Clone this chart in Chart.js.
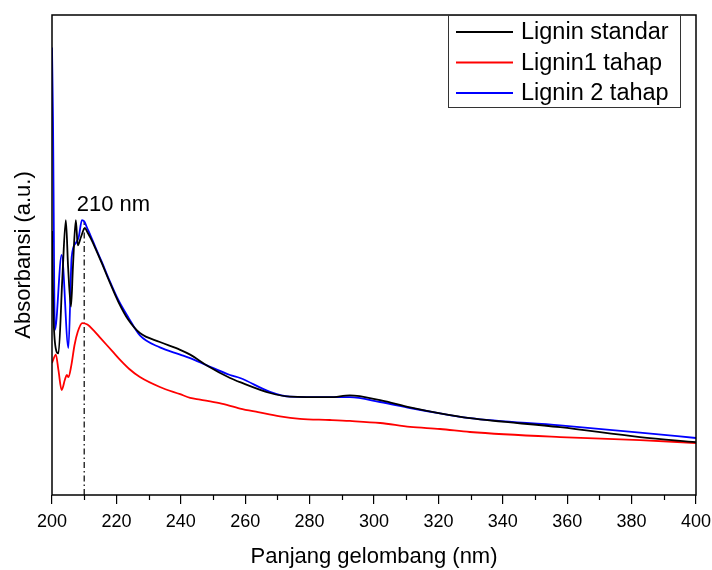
<!DOCTYPE html>
<html>
<head>
<meta charset="utf-8">
<script src="https://cdn.jsdelivr.net/npm/chart.js@4"></script>
<style>
  body{margin:0;background:#fff;}
  #wrap{width:712px;height:570px;}
</style>
</head>
<body>
<div id="wrap"><canvas id="uv-chart" width="712" height="570"></canvas></div>
<script>
// wavelength (nm) / absorbance (a.u.)
const standarNm = [200.0,200.4,201.0,202.0,203.2,204.3,205.0,205.9,206.5,207.4,208.0,209.0,210.2,211,212,213.4,215.5,217.5,220.6,223.7,227.3,233.5,239.8,242.9,248.1,255.3,258.4,267.7,273.9,286.3,292.5,301.9,311.2,320.5,329.8,357.8,382.6,400];
const standarAbs = [2.2,1.55,1.25,1.18,1.8,2.29,1.9,1.57,1.9,2.29,2.08,2.15,2.225,2.19,2.14,2.06,1.93,1.8,1.61,1.46,1.35,1.275,1.21,1.17,1.08,0.975,0.94,0.85,0.82,0.815,0.83,0.79,0.73,0.68,0.64,0.565,0.483,0.44];

const tahap1Nm = [200.0,201.2,202.0,203.0,204.0,204.6,205.1,206,207,208,209.4,211,213,215,217,219,221,224,227.3,233.5,239.8,242.9,246,252,258.4,264,270.8,277,286.3,292.5,301.9,311.2,320.5,329.8,357.8,382.6,400];
const tahap1Abs = [1.1,1.17,1.04,0.875,0.96,1.0,0.983,1.08,1.25,1.36,1.433,1.42,1.37,1.31,1.25,1.19,1.13,1.05,0.983,0.9,0.84,0.81,0.795,0.765,0.72,0.69,0.655,0.635,0.625,0.617,0.6,0.567,0.55,0.525,0.483,0.458,0.433];

const tahap2Nm = [200.0,200.3,200.9,203.0,205.1,206.1,207.4,208.3,209.3,210.0,211,212,213.4,215.5,217.5,220.6,223.7,227.3,233.5,239.8,242.9,248.1,255.3,258.4,267.7,273.9,286.3,292.5,301.9,311.2,320.5,329.8,357.8,382.6,400];
const tahap2Abs = [3.73,3.15,1.375,2.0,1.225,1.98,2.1,2.15,2.29,2.28,2.22,2.16,2.07,1.94,1.81,1.625,1.48,1.33,1.23,1.17,1.14,1.08,1.0,0.975,0.86,0.82,0.815,0.815,0.775,0.725,0.68,0.64,0.58,0.52,0.475];

const peakNm = 210;
const peakAbs = 2.28;
const seriesLabels = ['Lignin standar','Lignin1 tahap','Lignin 2 tahap'];
const seriesColors = ['#000000','#ff0000','#0000ff'];
const xTicks = [200,220,240,260,280,300,320,340,360,380,400];
const xMinorTicks = [210,230,250,270,290,310,330,350,370,390];

const FONT = "Arial, 'Liberation Sans', sans-serif";

function toPoints(xs, ys){
  return xs.map((x,i)=>({x:x, y:ys[i]}));
}

function makeLine(label, xs, ys, color){
  return {
    label: label,
    data: toPoints(xs, ys),
    borderColor: color,
    backgroundColor: color,
    borderWidth: 1.8,
    pointRadius: 0,
    cubicInterpolationMode: 'monotone',
    fill: false
  };
}

// frame, minor ticks, legend box and peak label
const decorPlugin = {
  id: 'decor',
  afterDraw(chart){
    const ctx = chart.ctx;
    const a = chart.chartArea;
    const xs = chart.scales.x;
    const ys = chart.scales.y;
    ctx.save();
    ctx.strokeStyle = '#000';
    ctx.lineWidth = 1.5;
    ctx.strokeRect(a.left, a.top, a.right - a.left, a.bottom - a.top);

    ctx.lineWidth = 1.2;
    xMinorTicks.forEach((v)=>{
      const px = Math.round(xs.getPixelForValue(v)) + 0.5;
      ctx.beginPath();
      ctx.moveTo(px, a.bottom);
      ctx.lineTo(px, a.bottom + 5);
      ctx.stroke();
    });

    // legend
    const bx = 448, by = 15, bw = 232, bh = 92;
    ctx.fillStyle = '#fff';
    ctx.fillRect(bx, by, bw, bh);
    ctx.strokeStyle = '#333';
    ctx.lineWidth = 1;
    ctx.strokeRect(bx + 0.5, by + 0.5, bw, bh);
    ctx.font = '23.5px ' + FONT;
    ctx.textBaseline = 'middle';
    ctx.textAlign = 'left';
    seriesLabels.forEach((lab,i)=>{
      const y = 32 + i * 30.5;
      ctx.strokeStyle = seriesColors[i];
      ctx.lineWidth = 1.8;
      ctx.beginPath();
      ctx.moveTo(456, y);
      ctx.lineTo(513, y);
      ctx.stroke();
      ctx.fillStyle = '#000';
      ctx.fillText(lab, 521, y + 1);
    });

    // peak label
    ctx.font = '22px ' + FONT;
    ctx.fillStyle = '#000';
    ctx.textBaseline = 'alphabetic';
    ctx.fillText(peakNm + ' nm', xs.getPixelForValue(207.7), ys.getPixelForValue(peakAbs) - 10);
    ctx.restore();
  }
};

const uvConfig = {
  type: 'line',
  data: {
    datasets: [
      makeLine(seriesLabels[0], standarNm, standarAbs, seriesColors[0]),
      makeLine(seriesLabels[1], tahap1Nm, tahap1Abs, seriesColors[1]),
      makeLine(seriesLabels[2], tahap2Nm, tahap2Abs, seriesColors[2]),
      {
        label: 'peak',
        data: [{x:peakNm, y:0}, {x:peakNm, y:peakAbs}],
        borderColor: '#000',
        borderWidth: 1.2,
        borderDash: [6,3,1.5,3],
        pointRadius: 0,
        fill: false
      }
    ]
  },
  options: {
    responsive: false,
    animation: false,
    layout: {padding: {top: 15, right: 16, left: 0, bottom: 0}},
    plugins: {
      legend: {display: false},
      tooltip: {enabled: false}
    },
    scales: {
      x: {
        type: 'linear',
        min: 200,
        max: 400,
        afterBuildTicks(scale){
          scale.ticks = xTicks.map((v)=>({value: v}));
        },
        afterFit(scale){
          scale.height = 75;
          scale.paddingLeft = 0;
          scale.paddingRight = 0;
        },
        grid: {drawOnChartArea: false, drawTicks: true, tickLength: 9, color: '#000', lineWidth: 1.2},
        border: {display: false},
        ticks: {color: '#000', font: {family: FONT, size: 18}, padding: 7, maxRotation: 0},
        title: {display: true, text: 'Panjang gelombang (nm)', color: '#000', font: {family: FONT, size: 22}, padding: {top: 4, bottom: 0}}
      },
      y: {
        type: 'linear',
        min: 0,
        max: 4,
        afterFit(scale){ scale.width = 52; },
        grid: {display: false},
        border: {display: false},
        ticks: {display: false},
        title: {display: true, text: 'Absorbansi (a.u.)', color: '#000', font: {family: FONT, size: 22}, padding: {top: 11, bottom: 0}}
      }
    }
  },
  plugins: [decorPlugin]
};

const uvChart = new Chart(document.getElementById('uv-chart'), uvConfig);
</script>
</body>
</html>
